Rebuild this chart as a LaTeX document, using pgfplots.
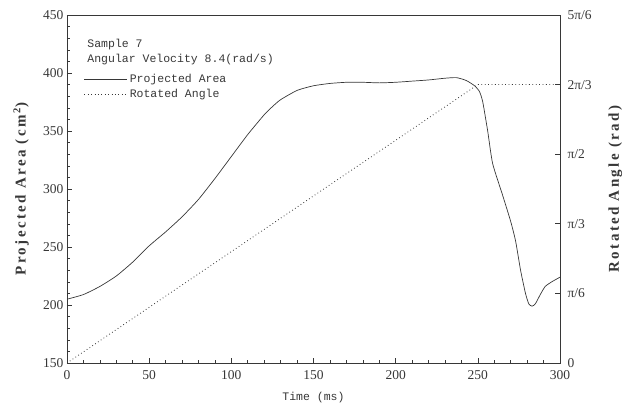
\documentclass[border=0pt]{standalone}
\usepackage{fontspec}
\setmainfont{Liberation Serif}
\setmonofont{Liberation Mono}
\usepackage{pgfplots}
\pgfplotsset{compat=1.18}

\definecolor{ink}{RGB}{55,55,55}

\pgfplotsset{
  base/.style={
    scale only axis, width=493pt, height=348pt,
    xmin=0, xmax=300,
    tick align=inside,
    major tick length=5pt, minor tick length=3pt,
    every tick/.style={ink, line width=0.6pt},
    axis line style={ink, line width=0.7pt},
    tick label style={font=\fontsize{13.5}{14}\selectfont, text=ink},
    label style={text=ink},
    /pgf/number format/assume math mode=true,
  }
}

\begin{document}
\begin{tikzpicture}
  % left axis: projected area
  \begin{axis}[base,
      ymin=150, ymax=450,
      xtick={0,50,...,300}, minor x tick num=4,
      ytick={150,200,...,450}, minor y tick num=4,
      xtick pos=left, ytick pos=left,
      xticklabel style={yshift=-4pt},
      xlabel={\ttfamily\fontsize{11.5}{13}\selectfont Time (ms)},
      xlabel style={at={(axis description cs:0.5,-0.098)}, anchor=center},
      ylabel={\bfseries\addfontfeatures{LetterSpace=16}\fontsize{15}{17}\selectfont Projected Area (cm\textsuperscript{\,2})},
      ylabel style={at={(axis description cs:-0.093,0.5)}, anchor=center},
    ]
    \addplot[ink, line width=0.7pt, smooth, tension=0.35] coordinates {
      (0,205) (10,209) (20,216) (30,225) (40,237) (50,251) (60,263)
      (70,276) (80,291) (90,309) (100,328) (110,347) (120,364) (125,371)
      (130,377) (140,385) (150,389) (160,391) (170,392) (180,392)
      (190,391.5) (200,392) (210,393) (220,394) (230,395.5) (237,396)
      (243,393.5) (248,389) (251,384) (253,375) (256,350) (259,322)
      (265,295) (270,272) (273,255) (276,230) (279,210) (281,201)
      (283,199) (285,201) (288,209) (291,216) (295,220) (300,224)
    };
    \node[anchor=west, font=\ttfamily\fontsize{11.5}{13}\selectfont, text=ink, inner sep=0pt]
      at (axis description cs:0.041,0.914) {Sample 7};
    \node[anchor=west, font=\ttfamily\fontsize{11.5}{13}\selectfont, text=ink, inner sep=0pt]
      at (axis description cs:0.041,0.871) {Angular Velocity 8.4(rad/s)};
  \end{axis}

  % right axis: rotated angle
  \begin{axis}[base,
      ymin=0, ymax=2.618,
      axis y line*=right, axis x line=none,
      ytick={0,0.5236,1.0472,1.5708,2.0944,2.618},
      yticklabels={0,π/6,π/3,π/2,2π/3,5π/6},
      yticklabel style={xshift=4pt},
      ylabel={\bfseries\addfontfeatures{LetterSpace=16}\fontsize{15}{17}\selectfont Rotated Angle (rad)},
      ylabel style={at={(axis description cs:1.112,0.5)}, anchor=center},
      legend style={draw=none, fill=none, at={(axis description cs:0.034,0.835)},
        anchor=north west, font=\ttfamily\fontsize{11.5}{13}\selectfont,
        text=ink, inner sep=0pt, row sep=1pt, cells={anchor=west}},
      legend image code/.code={\draw[#1] (0pt,0pt) -- (43pt,0pt);},
    ]
    \addlegendimage{ink, line width=0.7pt}
    \addlegendentry{Projected Area}
    \addplot[ink, line width=0.8pt, dash pattern=on 0.8pt off 2.6pt] coordinates {
      (0,0) (250,2.0944) (300,2.0944)
    };
    \addlegendentry{Rotated Angle}
  \end{axis}

  \pgfresetboundingbox
  \path (-67pt,-44pt) rectangle (560pt,363pt);
\end{tikzpicture}
\end{document}
